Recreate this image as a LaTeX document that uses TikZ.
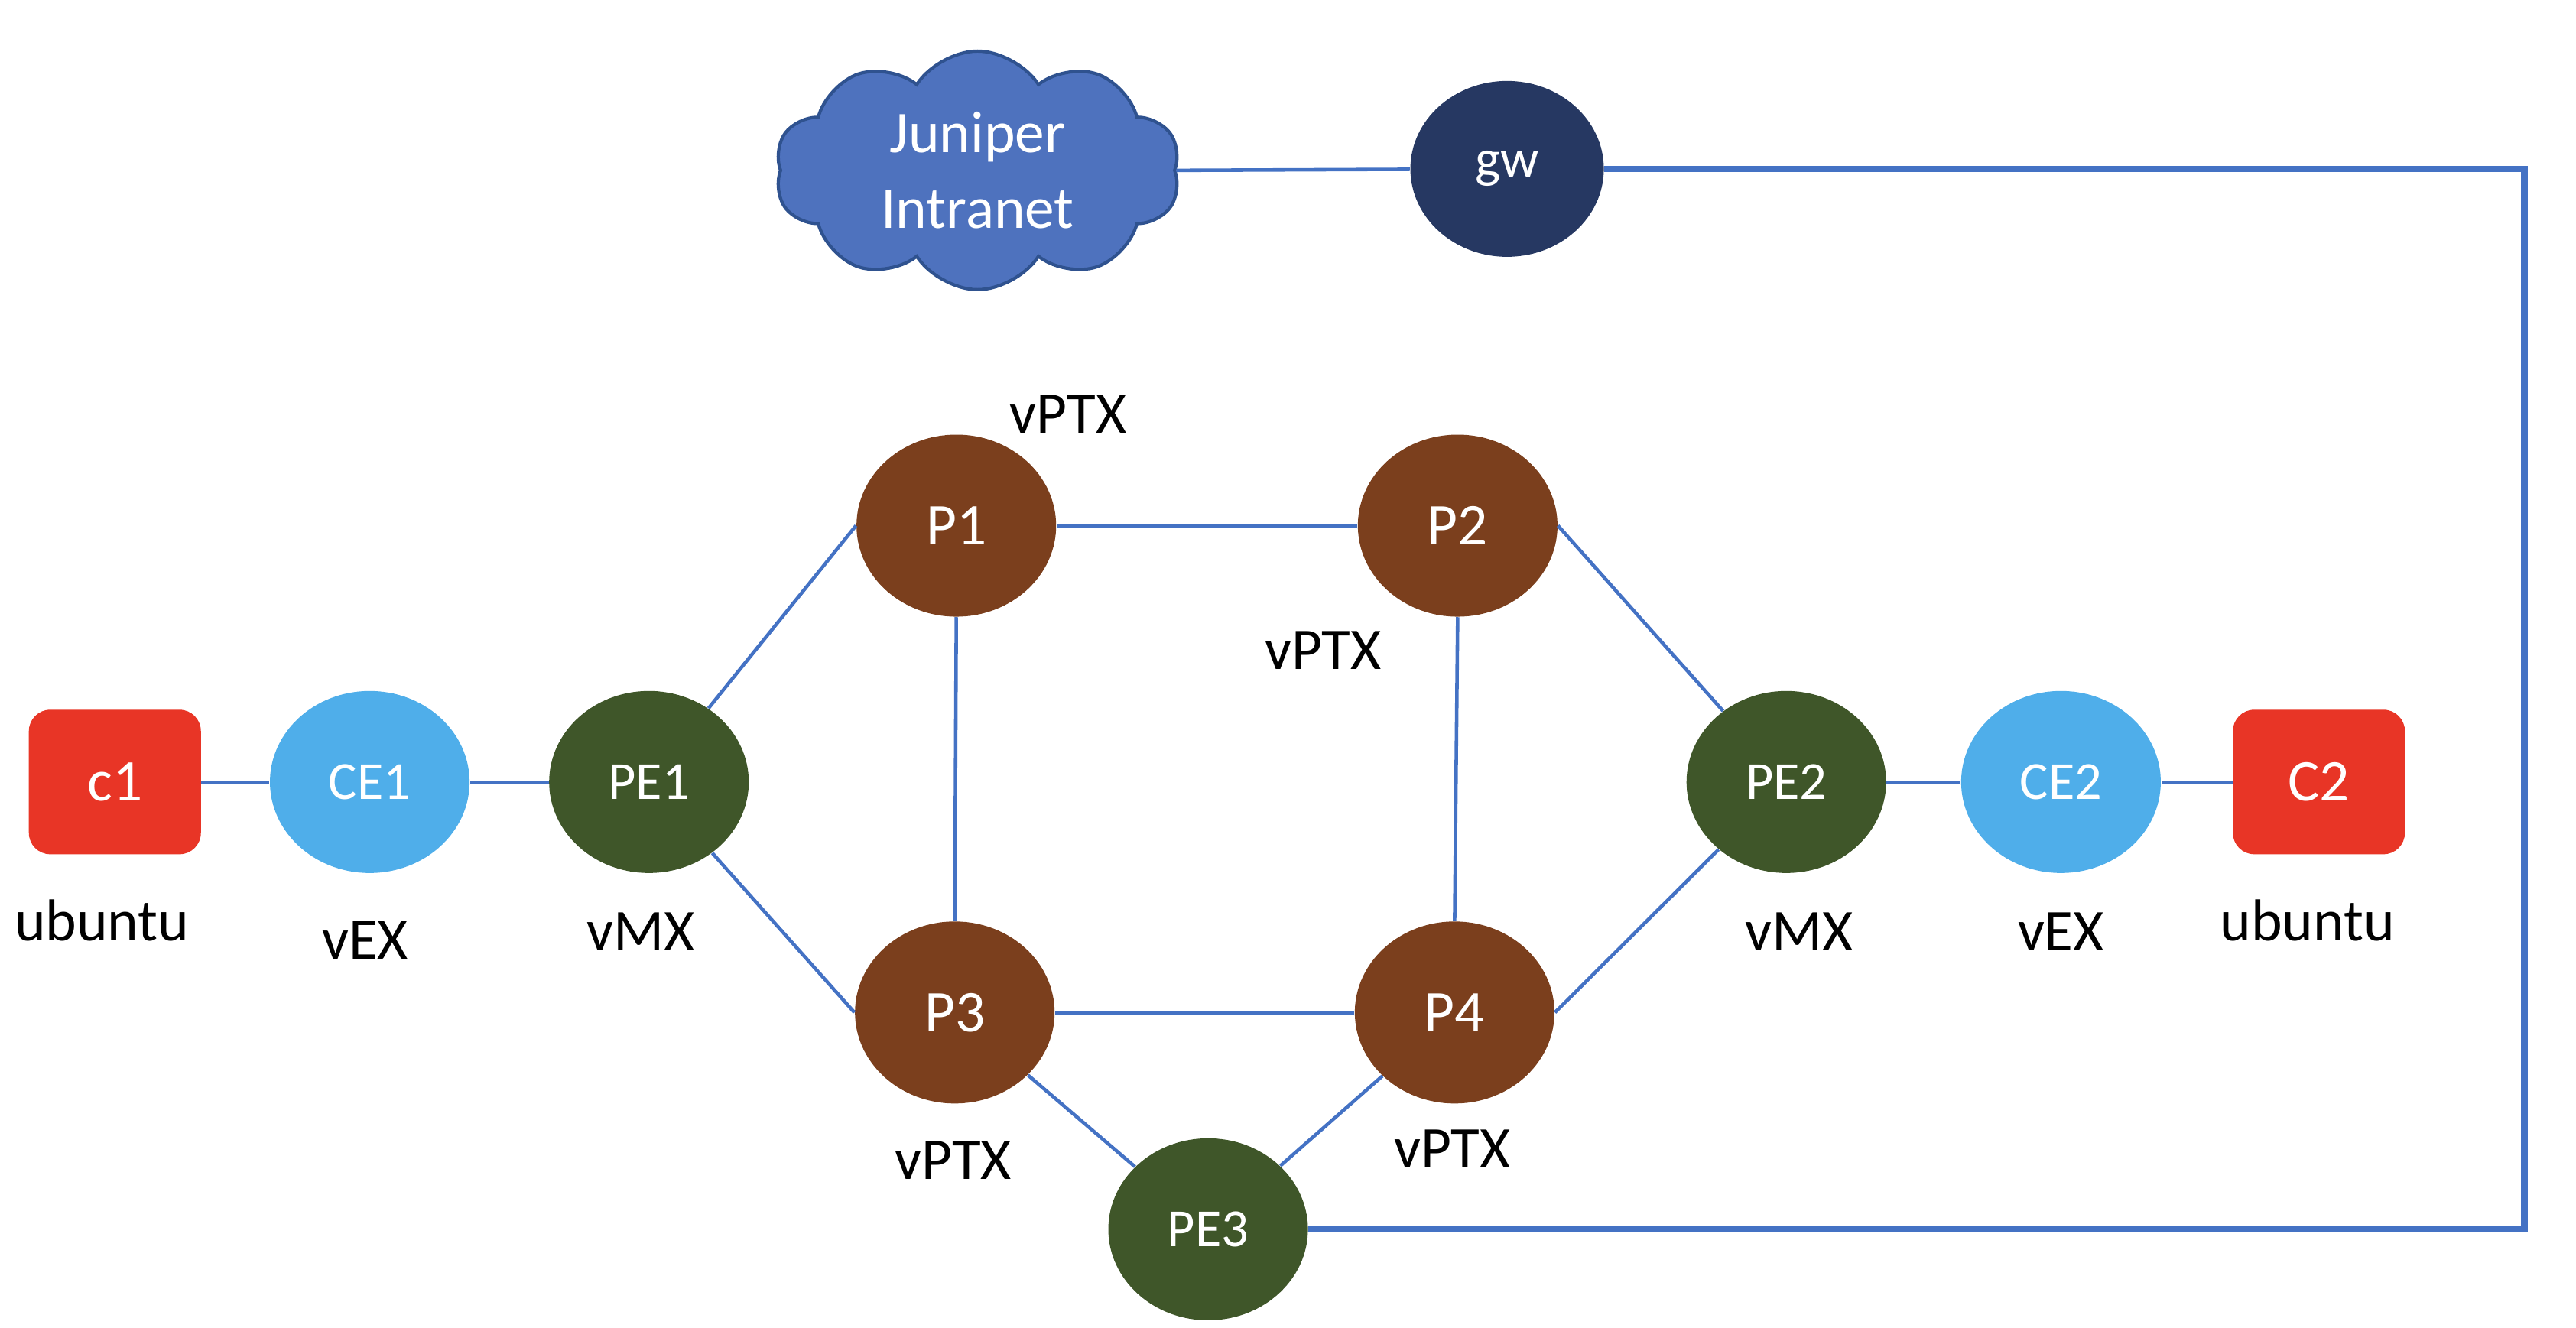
\documentclass[tikz,border=0pt]{standalone}
\usepackage{fontspec}
\setmainfont{Carlito}
\usetikzlibrary{shapes.geometric,shapes.symbols}
\definecolor{hostred}{HTML}{E83526}
\definecolor{vexblue}{HTML}{4FAEEA}
\definecolor{vmxgreen}{HTML}{3F5629}
\definecolor{ptxbrown}{HTML}{7B3F1D}
\definecolor{gwnavy}{HTML}{263862}
\definecolor{cloudfill}{HTML}{4E72BE}
\definecolor{cloudline}{HTML}{2F528F}
\definecolor{linkblue}{HTML}{4472C4}
\tikzstyle{router}=[ellipse, inner sep=0pt, minimum width=2.61cm, minimum height=2.38cm, text=white, font=\fontsize{20}{24}\selectfont]
\tikzstyle{host}=[rectangle, rounded corners=0.28cm, fill=hostred, minimum width=2.25cm, minimum height=1.89cm, text=white, font=\fontsize{22}{26}\selectfont]
\tikzstyle{tag}=[inner sep=0pt, font=\fontsize{22}{26}\selectfont]
\tikzstyle{link}=[draw=linkblue, line width=1.3pt]
\tikzstyle{uplink}=[draw=linkblue, line width=2.4pt]
\providecommand{\router}{\node[router]}

\begin{document}
\begin{tikzpicture}[x=0.00995cm, y=-0.00995cm,
    every edge/.style={link}
]
\useasboundingbox (0,0) rectangle (3386,1745);
\node[host] (c1) at (151,1028) {c1};
\router[fill=vexblue] (CE1) at (486,1028) {CE1};
\router[fill=vmxgreen] (PE1) at (853,1028) {PE1};
\router[fill=ptxbrown, font=\fontsize{22}{26}\selectfont] (P1) at (1257,691) {P1};
\router[fill=ptxbrown, font=\fontsize{22}{26}\selectfont] (P2) at (1916,691) {P2};
\router[fill=ptxbrown, font=\fontsize{22}{26}\selectfont] (P3) at (1255,1331) {P3};
\router[fill=ptxbrown, font=\fontsize{22}{26}\selectfont] (P4) at (1912,1331) {P4};
\router[fill=vmxgreen] (PE2) at (2348,1028) {PE2};
\router[fill=vexblue] (CE2) at (2709,1028) {CE2};
\node[host] (c2) at (3048,1028) {C2};
\router[fill=vmxgreen] (PE3) at (1588,1616) {PE3};
\router[fill=gwnavy, minimum width=2.53cm, minimum height=2.3cm] (gw) at (1981,222) {gw};
\node[cloud, cloud puffs=10, cloud puff arc=115, aspect=1.8, draw=cloudline, line width=1.2pt,
      fill=cloudfill, text=white, minimum width=5.3cm, minimum height=2.9cm,
      align=center, font=\fontsize{22}{28}\selectfont] (intranet) at (1285,224) {Juniper\\Intranet};
\coordinate (turn) at (3318,0);

\node[tag] (ubuntu1) at (134,1210) {ubuntu};
\node[tag] (vex1) at (480,1236) {vEX};
\node[tag] (vmx1) at (842,1225) {vMX};
\node[tag] (ptx1) at (1404,544) {vPTX};
\node[tag] (ptx2) at (1739,855) {vPTX};
\node[tag] (ptx3) at (1253,1525) {vPTX};
\node[tag] (ptx4) at (1909,1510) {vPTX};
\node[tag] (vmx2) at (2365,1225) {vMX};
\node[tag] (vex2) at (2709,1225) {vEX};
\node[tag] (ubuntu2) at (3033,1210) {ubuntu};

\path
(c1) edge (CE1)
(CE1) edge (PE1)
(PE1) edge (P1.west)
(PE1) edge (P3.west)
(P1.east) edge (P2.west)
(P3.east) edge (P4.west)
(P1.south) edge (P3.north)
(P2.south) edge (P4.north)
(P2.east) edge (PE2)
(P4.east) edge (PE2)
(PE2) edge (CE2)
(CE2) edge (c2)
(P3) edge (PE3)
(P4) edge (PE3)
(intranet.east) edge (gw)
;
\draw[uplink] (gw.east) -| (PE3.east -| turn) -- (PE3.east);
\end{tikzpicture}
\end{document}
